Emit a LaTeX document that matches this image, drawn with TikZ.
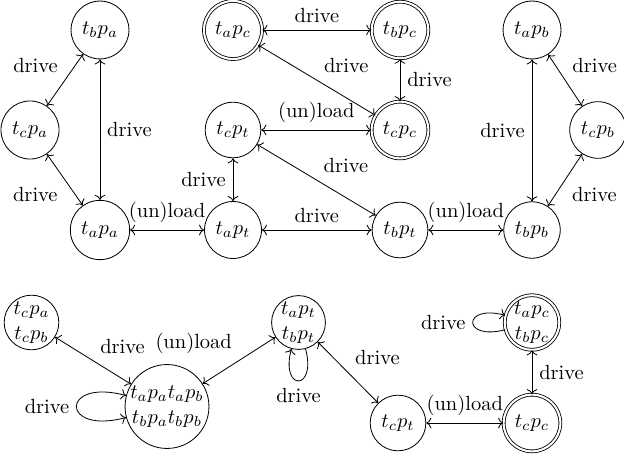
\documentclass[tikz,border=0pt]{standalone}
\usepackage{amsmath}
\usepackage{tikz}
\usetikzlibrary{arrows.meta,positioning,calc}

\tikzset{
  st/.style={circle,draw},
  acc/.style={st,double,double distance=1pt},
  grp/.style={circle,draw,align=center,inner sep=0pt},
  grpacc/.style={grp,double,double distance=1pt},
}

\begin{document}
\begin{tikzpicture}[x=1.7145cm,y=1.7145cm]
  \useasboundingbox (0,0) rectangle (6.24,4.55);
  % product automaton
  \node[st] (tbpa) at (1.00,4.25) {$t_bp_a$};
  \node[st] (tcpa) at (0.30,3.25) {$t_cp_a$};
  \node[st] (tapa) at (1.00,2.25) {$t_ap_a$};
  \node[acc] (tapc) at (2.33,4.25) {$t_ap_c$};
  \node[acc] (tbpc) at (4.00,4.25) {$t_bp_c$};
  \node[st] (tcpt) at (2.33,3.25) {$t_cp_t$};
  \node[acc] (tcpc) at (4.00,3.25) {$t_cp_c$};
  \node[st] (tapt) at (2.33,2.25) {$t_ap_t$};
  \node[st] (tbpt) at (4.00,2.25) {$t_bp_t$};
  \node[st] (tapb) at (5.32,4.25) {$t_ap_b$};
  \node[st] (tcpb) at (5.98,3.25) {$t_cp_b$};
  \node[st] (tbpb) at (5.32,2.25) {$t_bp_b$};

  \draw[<->] (tbpa) -- node[above left]{drive} (tcpa);
  \draw[<->] (tcpa) -- node[below left]{drive} (tapa);
  \draw[<->] (tbpa) -- node[right]{drive} (tapa);
  \draw[<->] (tapa) -- node[above]{(un)load} (tapt);
  \draw[<->] (tapc) -- node[above]{drive} (tbpc);
  \draw[<->] (tapc) -- node[above right]{drive} (tcpc);
  \draw[<->] (tbpc) -- node[right]{drive} (tcpc);
  \draw[<->] (tcpt) -- node[above]{(un)load} (tcpc);
  \draw[<->] (tcpt) -- node[above right]{drive} (tbpt);
  \draw[<->] (tcpt) -- node[left]{drive} (tapt);
  \draw[<->] (tapt) -- node[above]{drive} (tbpt);
  \draw[<->] (tbpt) -- node[above]{(un)load} (tbpb);
  \draw[<->] (tapb) -- node[left]{drive} (tbpb);
  \draw[<->] (tapb) -- node[above right]{drive} (tcpb);
  \draw[<->] (tcpb) -- node[below right]{drive} (tbpb);

  % quotient automaton
  \node[grp] (qc) at (0.315,1.325) {$t_cp_a$\\$t_cp_b$};
  \node[grp] (qab) at (1.67,0.485) {$t_ap_at_ap_b$\\$t_bp_at_bp_b$};
  \node[grp] (qt) at (2.985,1.325) {$t_ap_t$\\$t_bp_t$};
  \node[st] (qct) at (3.98,0.32) {$t_cp_t$};
  \node[grpacc] (qabc) at (5.32,1.325) {$t_ap_c$\\$t_bp_c$};
  \node[acc] (qcc) at (5.32,0.32) {$t_cp_c$};

  \draw[<->] (qc) -- node[above right]{drive} (qab);
  \draw[<->] (qab) -- node[above left]{(un)load} (qt);
  \draw[<->] (qt) -- node[above right]{drive} (qct);
  \draw[<->] (qct) -- node[above]{(un)load} (qcc);
  \draw[<->] (qabc) -- node[right]{drive} (qcc);
  \draw[<->] (qab) to[loop left] node[left]{drive} (qab);
  \draw[->] (qt) to[loop below] node[below]{drive} (qt);
  \draw[->] (qabc) to[loop left] node[left]{drive} (qabc);
\end{tikzpicture}
\end{document}
